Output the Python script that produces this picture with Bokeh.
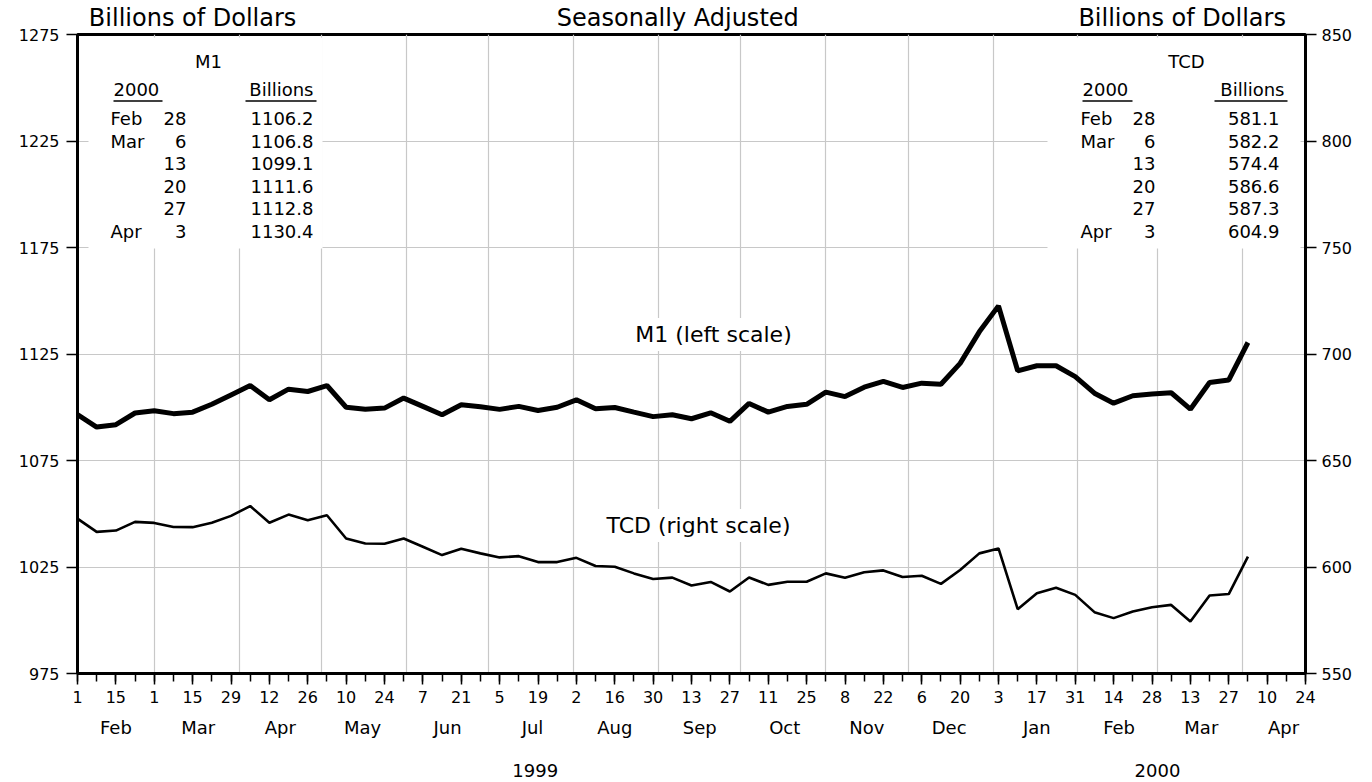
import datetime as dt
from bokeh.plotting import figure
from bokeh.models import (Range1d, LinearAxis, FixedTicker, Label, BoxAnnotation)
from bokeh.embed import file_html
from bokeh.resources import INLINE

# ---------------- data ----------------
start = dt.date(1999, 2, 1)
end = dt.date(2000, 4, 24)
n_weeks = 62

m1 = [1096.5, 1090.7, 1091.8, 1097.3, 1098.4, 1097.0, 1097.7, 1101.4, 1105.8, 1110.2,
      1103.5, 1108.5, 1107.4, 1110.2, 1100.0, 1099.1, 1099.6, 1104.3, 1100.4, 1096.5,
      1101.2, 1100.2, 1099.0, 1100.4, 1098.5, 1100.0, 1103.5, 1099.3, 1099.9, 1097.7,
      1095.6, 1096.5, 1094.6, 1097.4, 1093.4, 1101.8, 1097.7, 1100.4, 1101.4, 1107.1,
      1105.0, 1109.4, 1112.1, 1109.3, 1111.3, 1110.8, 1120.6, 1135.4, 1147.6, 1117.1,
      1119.5, 1119.5, 1114.4, 1106.6, 1101.9, 1105.4, 1106.2, 1106.8, 1099.1, 1111.6,
      1112.8, 1130.4]

tcd = [622.7, 616.5, 617.1, 621.2, 620.7, 618.8, 618.7, 620.8, 624.0, 628.6,
       620.8, 624.6, 622.0, 624.3, 613.4, 611.0, 610.9, 613.4, 609.5, 605.6,
       608.6, 606.4, 604.5, 605.1, 602.3, 602.3, 604.3, 600.5, 600.1, 597.0,
       594.4, 595.0, 591.3, 593.0, 588.5, 595.1, 591.6, 593.1, 593.1, 597.0,
       595.0, 597.5, 598.4, 595.3, 595.9, 592.1, 598.6, 606.4, 608.7, 580.2,
       587.7, 590.3, 586.9, 578.8, 576.0, 579.1, 581.1, 582.2, 574.4, 586.6,
       587.3, 604.9]

month_names = ["Feb", "Mar", "Apr", "May", "Jun", "Jul", "Aug", "Sep", "Oct",
               "Nov", "Dec", "Jan", "Feb", "Mar", "Apr"]
month_starts = [dt.date(1999, m, 1) for m in range(2, 13)] + \
               [dt.date(2000, m, 1) for m in range(1, 6)]
year_names = ["1999", "2000"]
left_ticks = [975, 1025, 1075, 1125, 1175, 1225, 1275]
right_ticks = [550, 600, 650, 700, 750, 800, 850]
top_texts = ["Billions of Dollars", "Seasonally Adjusted", "Billions of Dollars"]

# ---------------- geometry helpers ----------------
FONT = "DejaVu Sans"
total_days = (end - start).days
week_x = [7 * i for i in range(n_weeks)]
week_dates = [start + dt.timedelta(days=d) for d in week_x]

FL, FR, FT, FB = 77, 1305, 33, 672   # frame edges in page pixels
W, H = 1366, 780
def dx(px):
    return (px - FL) * total_days / (FR - FL)
def dy(py):
    return 1275 - (py - FT) * 300 / (FB - FT)
def days(d):
    return (d - start).days

p = figure(frame_width=FR - FL, frame_height=FB - FT,
           min_border_left=FL, min_border_right=W - FR,
           min_border_top=FT, min_border_bottom=H - FB,
           x_range=Range1d(0, total_days), y_range=Range1d(975, 1275),
           output_backend="svg", toolbar_location=None, tools="")
p.extra_y_ranges = {"right": Range1d(550, 850)}

p.outline_line_color = "black"
p.outline_line_width = 3
p.background_fill_color = "white"
p.border_fill_color = "white"

# grids
p.ygrid.ticker = FixedTicker(ticks=left_ticks)
p.xgrid.ticker = FixedTicker(ticks=[days(d) for d in month_starts[1:-1]])
for g in (p.xgrid[0], p.ygrid[0]):
    g.grid_line_color = "#c8c8c8"
    g.grid_line_width = 1.2
    g.level = "image"

# axes
xa = p.xaxis[0]
major = list(range(0, total_days + 1, 14))
xa.ticker = FixedTicker(ticks=major, minor_ticks=list(range(0, total_days + 1, 7)))
xa.major_label_overrides = {t: str((start + dt.timedelta(days=t)).day) for t in major}
ya = p.yaxis[0]
ya.ticker = FixedTicker(ticks=left_ticks)
ra = LinearAxis(y_range_name="right", ticker=FixedTicker(ticks=right_ticks))
p.add_layout(ra, "right")
for ax in (xa, ya, ra):
    ax.axis_line_width = 3
    ax.axis_line_color = "black"
    ax.major_tick_in = 0
    ax.minor_tick_in = 0
    ax.major_tick_line_width = 1.5
    ax.minor_tick_line_width = 1.5
    ax.major_label_text_font = FONT
    ax.major_label_text_font_size = "16px"
    ax.major_label_text_color = "black"
xa.major_tick_out = 11
xa.minor_tick_out = 8
xa.major_label_standoff = 6
ya.major_tick_out = 11
ya.minor_tick_out = 0
ya.major_label_standoff = 7
ra.major_tick_out = 11
ra.minor_tick_out = 0
ra.major_label_standoff = 5

def text_axis(ticks, labels, place, size, standoff):
    ax = LinearAxis(ticker=FixedTicker(ticks=ticks, minor_ticks=[]),
                    major_label_overrides=dict(zip(ticks, labels)))
    ax.axis_line_color = None
    ax.major_tick_line_color = None
    ax.minor_tick_line_color = None
    ax.major_tick_out = 0
    ax.major_tick_in = 0
    ax.major_label_standoff = standoff
    ax.major_label_text_font = FONT
    ax.major_label_text_font_size = size
    ax.major_label_text_color = "black"
    p.add_layout(ax, place)
    return ax

# month names (centred on each month)
month_mid = [int(round((days(month_starts[i]) + days(month_starts[i + 1])) / 2))
             for i in range(len(month_names))]
text_axis(month_mid, month_names, "below", "18px", 11)
# years
year_bounds = [(start, dt.date(2000, 1, 1)), (dt.date(2000, 1, 1), dt.date(2000, 5, 1))]
year_mid = [int(round((days(a) + days(b)) / 2)) for a, b in year_bounds]
text_axis(year_mid, year_names, "below", "18px", 23)
# top texts
top_pos = [int(round(dx(193))), int(round(dx(676))), int(round(dx(1181)))]
text_axis(top_pos, top_texts, "above", "24px", 3)

# white boxes behind the inset tables
for l, r in ((88, 322), (1047, 1300)):
    p.add_layout(BoxAnnotation(left=dx(l), right=dx(r), bottom=dy(247), top=dy(36),
                               fill_color="white", fill_alpha=1.0, line_color=None,
                               level="underlay"))

# series
p.line(week_x, m1, line_color="black", line_width=5)
p.line(week_x, tcd, line_color="black", line_width=2.6, y_range_name="right")

def lab(x, y, text, size="18px", align="left", bg=None, pad=0):
    kw = dict(x=x, y=y, text=text, text_font=FONT, text_font_size=size,
              text_align=align, text_baseline="middle", text_color="black")
    if bg:
        kw.update(background_fill_color=bg, padding=pad)
    p.add_layout(Label(**kw))

# inline series labels
lab(dx(713), dy(333), "M1 (left scale)", "22px", "center", "white", 4)
lab(dx(698), dy(524), "TCD (right scale)", "22px", "center", "white", 4)

# inset tables (last six weeks)
tbl_dates = week_dates[-6:]
rows_y = [117.3 + 22.5 * k for k in range(6)]
def table(title, title_x, col_month, col_day, col_val, vals, hdr2000, hdrbill):
    lab(dx(title_x), dy(60), title, "18px", "center")
    lab(dx(hdr2000[0]), dy(88), "2000", "18px", "left")
    lab(dx(hdrbill[1]), dy(88), "Billions", "18px", "right")
    p.segment(x0=[dx(hdr2000[0]), dx(hdrbill[0])], x1=[dx(hdr2000[1]), dx(hdrbill[1] + 3)],
              y0=[dy(99.5)] * 2, y1=[dy(99.5)] * 2, line_color="black", line_width=1.5)
    prev_month = None
    for k, d in enumerate(tbl_dates):
        m = d.strftime("%b")
        if m != prev_month:
            lab(dx(col_month), dy(rows_y[k]), m, "18px", "left")
            prev_month = m
        lab(dx(col_day), dy(rows_y[k]), str(d.day), "18px", "right")
        lab(dx(col_val), dy(rows_y[k]), "%.1f" % vals[-6 + k], "18px", "right")

table("M1", 208, 110, 186, 313, m1, (113, 162), (245, 313))
table("TCD", 1186, 1080, 1155, 1279, tcd, (1082, 1132), (1214, 1284))

open("out.html", "w").write(file_html(p, INLINE))
